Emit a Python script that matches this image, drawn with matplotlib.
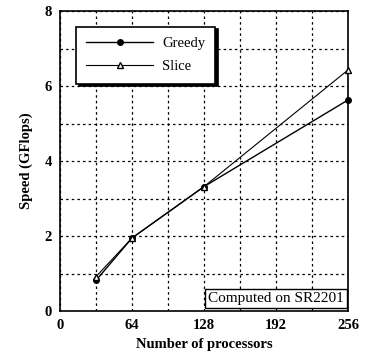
import matplotlib
matplotlib.use('Agg')
import matplotlib.pyplot as plt

plt.rcParams['font.family'] = ['Liberation Serif', 'DejaVu Serif']

# данные с графика
procs = [32, 64, 128, 256]
greedy = [0.82, 1.95, 3.32, 5.63]
slice_ = [0.92, 1.95, 3.32, 6.43]

xticks = [0, 64, 128, 192, 256]
yticks = [0, 2, 4, 6, 8]

fig = plt.figure(figsize=(3.66, 3.56), dpi=100)
ax = fig.add_axes([0.164, 0.126, 0.787, 0.843])

ax.plot(procs, greedy, '-', color='black', lw=1.0, marker='o', ms=4,
        mfc='black', label='Greedy', clip_on=False, zorder=5)
ax.plot(procs, slice_, '-', color='black', lw=0.8, marker='^', ms=4.5,
        mfc='white', label='Slice', clip_on=False, zorder=5)

ax.set_xlim(0, 256)
ax.set_ylim(0, 8)
ax.set_xticks(xticks)
ax.set_yticks(yticks)
ax.set_xticks(range(0, 257, 32), minor=True)
ax.set_yticks(range(0, 9), minor=True)
ax.tick_params(which='both', length=0, pad=6, labelsize=10.5)
for lab in ax.get_xticklabels() + ax.get_yticklabels():
    lab.set_fontweight('bold')
ax.grid(True, which='both', color='black', linestyle=(0, (2, 2.5)), lw=0.9)
for sp in ax.spines.values():
    sp.set_linewidth(1.2)

ax.set_xlabel('Number of processors', fontsize=10.5, fontweight='bold', labelpad=4)
ax.set_ylabel('Speed (GFlops)', fontsize=10.5, fontweight='bold', labelpad=8)

leg = ax.legend(loc='upper left', bbox_to_anchor=(0.055, 0.948), frameon=True,
                fancybox=False, shadow={'color': 'black', 'alpha': 1.0},
                edgecolor='black', framealpha=1, handlelength=4.6,
                fontsize=10.5, borderpad=0.7, labelspacing=0.7,
                handletextpad=0.6, borderaxespad=0)
leg.get_frame().set_linewidth(1.2)
leg.set_zorder(10)

ax.text(0.985, 0.02, 'Computed on SR2201', transform=ax.transAxes,
        ha='right', va='bottom', fontsize=11,
        bbox=dict(boxstyle='square,pad=0.2', fc='white', ec='black', lw=1))

fig.savefig('out.png', dpi=100)
